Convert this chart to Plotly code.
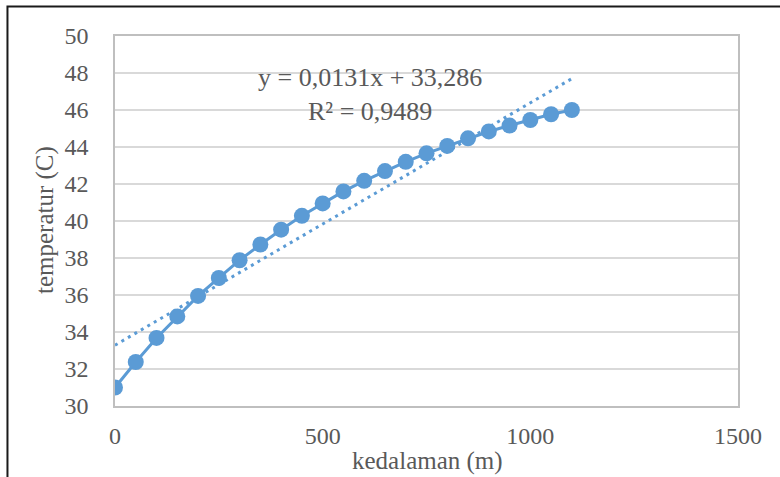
import plotly.graph_objects as go

depth = [0, 50, 100, 150, 200, 250, 300, 350, 400, 450, 500, 550, 600, 650, 700,
         750, 800, 850, 900, 950, 1000, 1050, 1100]
temperature = [31.0, 32.38, 33.68, 34.84, 35.95, 36.92, 37.88, 38.73, 39.53, 40.28,
               40.95, 41.60, 42.17, 42.70, 43.20, 43.66, 44.06, 44.47, 44.84, 45.16,
               45.46, 45.77, 46.0]
trend_slope = 0.0131
trend_intercept = 33.286
trend_label = "y = 0,0131x + 33,286<br>R² = 0,9489"
x_title = "kedalaman (m)"
y_title = "temperatur (C)"
x_ticks = [0, 500, 1000, 1500]
y_ticks = [30, 32, 34, 36, 38, 40, 42, 44, 46, 48, 50]

blue = "#5B9BD5"
font_family = "Liberation Serif"
tick_color = "#595959"

trend_x = [depth[0], depth[-1]]
trend_y = [trend_slope * v + trend_intercept for v in trend_x]

fig = go.Figure()
fig.add_trace(go.Scatter(x=trend_x, y=trend_y, mode="lines",
                         line=dict(color=blue, width=3, dash="3px,4.5px"),
                         hoverinfo="skip", showlegend=False))
fig.add_trace(go.Scatter(x=depth, y=temperature, mode="lines+markers",
                         line=dict(color=blue, width=3),
                         marker=dict(color=blue, size=16),
                         showlegend=False))

fig.add_annotation(x=615, y=46.85, xref="x", yref="y", text=trend_label,
                   showarrow=False, align="center", xanchor="center", yanchor="middle",
                   font=dict(family=font_family, size=26, color=tick_color))

# axis titles
fig.add_annotation(x=(427 - 115) / 623, y=(406 - 461) / 370, xref="paper", yref="paper",
                   text=x_title, showarrow=False, xanchor="center", yanchor="middle",
                   font=dict(family=font_family, size=25, color=tick_color))
fig.add_annotation(x=(45 - 115) / 623, y=(406 - 220) / 370, xref="paper", yref="paper",
                   text=y_title, showarrow=False, textangle=-90,
                   xanchor="center", yanchor="middle",
                   font=dict(family=font_family, size=25, color=tick_color))

# outer chart frame
fig.add_shape(type="rect", xref="paper", yref="paper",
              x0=-0.1726, x1=1.5, y0=-0.6, y1=1.0797,
              line=dict(color="#1a1a1a", width=2), fillcolor="rgba(0,0,0,0)",
              layer="above")

fig.update_layout(
    width=780, height=477,
    margin=dict(l=115, r=42, t=36, b=71),
    paper_bgcolor="white", plot_bgcolor="white",
    font=dict(family=font_family, color=tick_color, size=22),
    xaxis=dict(range=[0, 1500], tickvals=x_ticks, showgrid=False,
               showline=True, linecolor="#bfbfbf", linewidth=1.5, mirror=True,
               ticks="outside", ticklen=7, tickcolor="rgba(0,0,0,0)",
               tickfont=dict(size=24, color=tick_color),
               zeroline=False, automargin=False),
    yaxis=dict(range=[30, 50], tickvals=y_ticks, showgrid=True,
               gridcolor="#d9d9d9", gridwidth=1.5,
               showline=True, linecolor="#bfbfbf", linewidth=1.5, mirror=True,
               ticks="outside", ticklen=20, tickcolor="rgba(0,0,0,0)",
               tickfont=dict(size=24, color=tick_color),
               zeroline=False, automargin=False),
)

fig.write_html("out.html")
